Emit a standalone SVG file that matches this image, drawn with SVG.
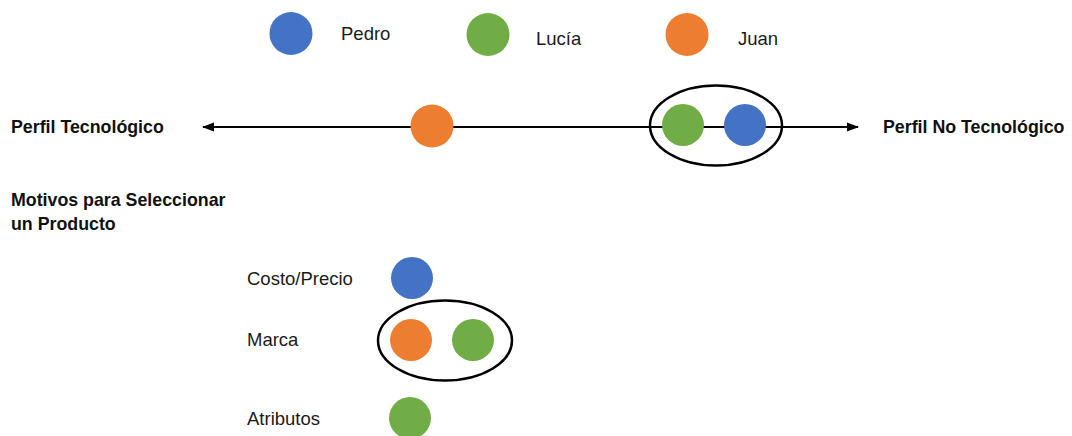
<svg xmlns="http://www.w3.org/2000/svg" width="1072" height="436" viewBox="0 0 1072 436">
<defs>
<style>
.t{font-family:"Liberation Sans",Arial,sans-serif;font-size:18.5px;fill:#1a1a1a}
.b{font-family:"Liberation Sans",Arial,sans-serif;font-size:17.8px;font-weight:bold;fill:#111}
.blue{fill:#4472c4}
.green{fill:#70ad47}
.orange{fill:#ed7d31}
.ring{fill:none;stroke:#000;stroke-width:2.5}
</style>
<marker id="ah" markerWidth="12" markerHeight="10" refX="11" refY="5" orient="auto-start-reverse" markerUnits="userSpaceOnUse">
<path d="M0,0.5 L12,5 L0,9.5 Z" fill="#000"/>
</marker>
</defs>
<rect width="1072" height="436" fill="#fff"/>
<g id="connectors">
<line x1="203" y1="127" x2="858" y2="127" stroke="#000" stroke-width="2" marker-start="url(#ah)" marker-end="url(#ah)"/>
</g>
<g id="legend-pedro"><circle class="blue" cx="291" cy="33.5" r="21.5"/><text class="t" x="341" y="40">Pedro</text></g>
<g id="legend-lucia"><circle class="green" cx="488" cy="34.5" r="21.5"/><text class="t" x="536" y="45">Lucía</text></g>
<g id="legend-juan"><circle class="orange" cx="687" cy="34.5" r="21.5"/><text class="t" x="738" y="45">Juan</text></g>
<g id="label-tec"><text class="b" x="11" y="133">Perfil Tecnológico</text></g>
<g id="label-notec"><text class="b" x="883" y="133">Perfil No Tecnológico</text></g>
<g id="axis-juan"><circle class="orange" cx="432" cy="126" r="21.5"/></g>
<g id="axis-group">
<circle class="green" cx="683" cy="125" r="21"/>
<circle class="blue" cx="745" cy="125" r="21"/>
<ellipse class="ring" cx="716" cy="125.5" rx="66" ry="40"/>
</g>
<g id="label-motivos"><text class="b" x="11" y="206">Motivos para Seleccionar</text><text class="b" x="11" y="230">un Producto</text></g>
<g id="row-costo"><text class="t" x="247" y="285">Costo/Precio</text><circle class="blue" cx="412" cy="278" r="21"/></g>
<g id="row-marca"><text class="t" x="247" y="346">Marca</text><circle class="orange" cx="411" cy="340" r="21"/><circle class="green" cx="473" cy="340" r="21"/><ellipse class="ring" cx="445" cy="340.5" rx="67" ry="40"/></g>
<g id="row-atributos"><text class="t" x="247" y="425">Atributos</text><circle class="green" cx="410" cy="418" r="21"/></g>
</svg>
